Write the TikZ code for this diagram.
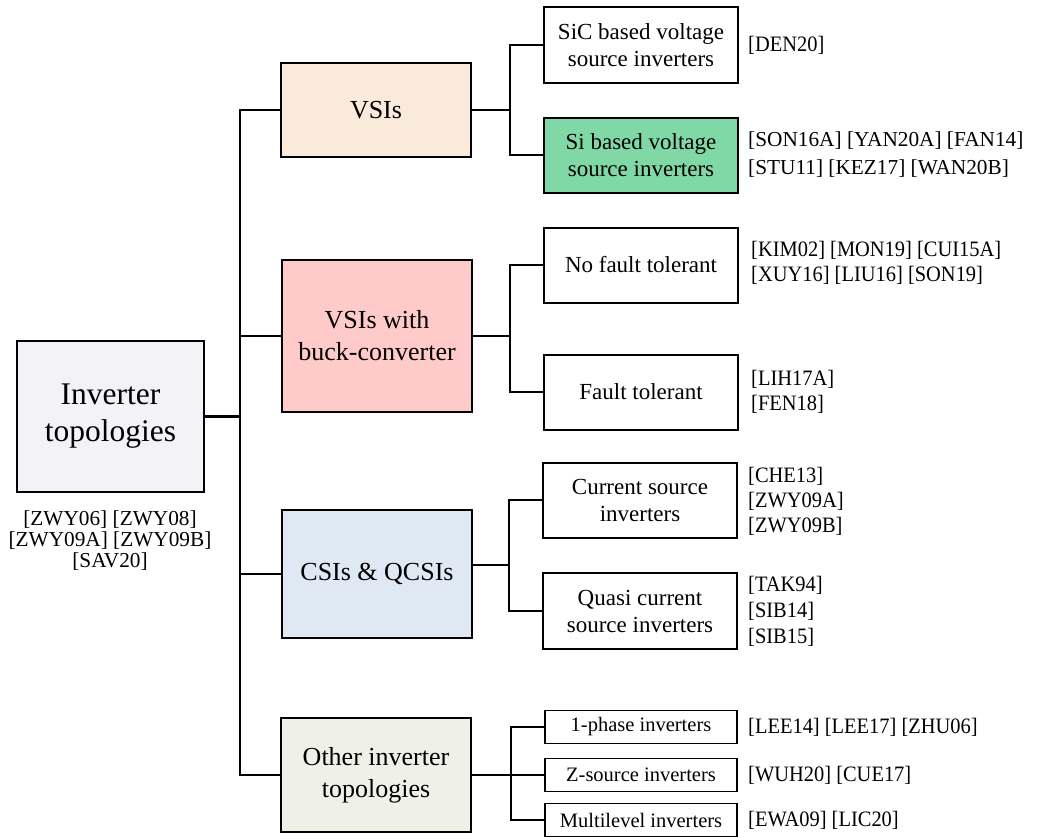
\documentclass[tikz,border=0pt]{standalone}
\usepackage{fontspec}
\setmainfont{Liberation Serif}
\newfontfamily\reffont[FakeStretch=0.93]{Liberation Serif}
\usepackage{tikz}

\definecolor{rootfill}{HTML}{F2F2F7}
\definecolor{vsifill}{HTML}{FAEADC}
\definecolor{sifill}{HTML}{80D8A6}
\definecolor{buckfill}{HTML}{FFCACA}
\definecolor{csifill}{HTML}{DFE9F3}
\definecolor{otherfill}{HTML}{EFF1E7}

\tikzset{
    rootbox/.style={draw, line width=2.6pt, minimum width=187pt, minimum height=151pt, align=center, font=\fontsize{31.5}{37}\selectfont},
    topbox/.style={draw, line width=2.6pt, minimum width=190pt, align=center, font=\fontsize{26}{32}\selectfont},
    subbox/.style={draw, line width=2pt, minimum width=194pt, align=center, font=\fontsize{23}{27}\selectfont},
    smallbox/.style={draw, line width=1.6pt, minimum width=192pt, minimum height=33pt, inner sep=0pt, font=\fontsize{20.5}{22}\selectfont},
    refs/.style={anchor=west, align=left, inner sep=0pt, font=\reffont\fontsize{22}{25}\selectfont},
    link/.style={line width=2.4pt},
    sublink/.style={line width=2pt}
}

\begin{document}
\begin{tikzpicture}[x=1pt, y=-1pt]
    \useasboundingbox (0,0) rectangle (1040,836);

    % Root
    \node[rootbox, fill=rootfill] (root) at (110.5,416.5) {Inverter\\topologies};
    \node[align=center, inner sep=0pt, font=\fontsize{21.3}{21}\selectfont] (rootref) at (110,541)
        {[ZWY06] [ZWY08]\\{}[ZWY09A] [ZWY09B]\\{}[SAV20]};

    % First level
    \node[topbox, fill=vsifill, minimum height=94pt] (vsi) at (376,110) {VSIs};
    \node[topbox, fill=buckfill, minimum height=152pt] (buck) at (377,336) {VSIs with\\buck-converter};
    \node[topbox, fill=csifill, minimum height=128pt] (csi) at (377,574) {CSIs \& QCSIs};
    \node[topbox, fill=otherfill, minimum height=114pt] (other) at (376,775) {Other inverter\\topologies};

    % Trunk
    \coordinate (tr) at (240,0);
    \draw[link] (root.east) -- (root.east -| tr);
    \draw[link] (vsi.west) -- (vsi.west -| tr) -- (other.west -| tr) -- (other.west);
    \draw[link] (buck.west) -- (buck.west -| tr);
    \draw[link] (csi.west) -- (csi.west -| tr);

    % VSIs
    \node[subbox, minimum height=76pt] (sic) at (641,45) {SiC based voltage\\source inverters};
    \node[subbox, fill=sifill, minimum height=75pt] (si) at (641,155) {Si based voltage\\source inverters};
    \node[refs] (sicref) at (748,45) {[DEN20]};
    \node[refs, font=\rmfamily\fontsize{21.3}{28}\selectfont] (siref) at (748,155) {[SON16A] [YAN20A] [FAN14]\\{}[STU11] [KEZ17] [WAN20B]};
    \draw[sublink] (vsi.east) -- ++(38,0) coordinate (vsij);
    \draw[sublink] (sic.west) -| (vsij) |- (si.west);

    % VSIs with buck-converter
    \node[subbox, minimum height=75pt] (nft) at (641,265) {No fault tolerant};
    \node[subbox, minimum height=75pt] (ft) at (641,392) {Fault tolerant};
    \node[refs] (nftref) at (751,263) {[KIM02] [MON19] [CUI15A]\\{}[XUY16] [LIU16] [SON19]};
    \node[refs] (ftref) at (751,392) {[LIH17A]\\{}[FEN18]};
    \draw[sublink] (buck.east) -- ++(37,0) coordinate (buckj);
    \draw[sublink] (nft.west) -| (buckj) |- (ft.west);

    % CSIs & QCSIs
    \node[subbox, minimum height=75pt] (cs) at (640,500) {Current source\\inverters};
    \node[subbox, minimum height=76pt] (qcs) at (640,611) {Quasi current\\source inverters};
    \node[refs] (csref) at (748,501) {[CHE13]\\{}[ZWY09A]\\{}[ZWY09B]};
    \node[refs, font=\reffont\fontsize{22}{26}\selectfont] (qcsref) at (748,611) {[TAK94]\\{}[SIB14]\\{}[SIB15]};
    \draw[sublink] ([yshift=9pt]csi.east) -- ++(36,0) coordinate (csij);
    \draw[sublink] (cs.west) -| (csij) |- (qcs.west);

    % Other inverter topologies
    \node[smallbox] (one) at (641,727) {1-phase inverters};
    \node[smallbox] (zsrc) at (641,775) {Z-source inverters};
    \node[smallbox] (multi) at (641,820) {Multilevel inverters};
    \node[refs] (oneref) at (748,727) {[LEE14] [LEE17] [ZHU06]};
    \node[refs] (zsrcref) at (748,775) {[WUH20] [CUE17]};
    \node[refs] (multiref) at (748,820) {[EWA09] [LIC20]};
    \draw[sublink] (other.east) -- ++(39,0) coordinate (otherj);
    \draw[sublink] (one.west) -| (otherj) |- (multi.west);
    \draw[sublink] (otherj) -- (zsrc.west);
\end{tikzpicture}
\end{document}
